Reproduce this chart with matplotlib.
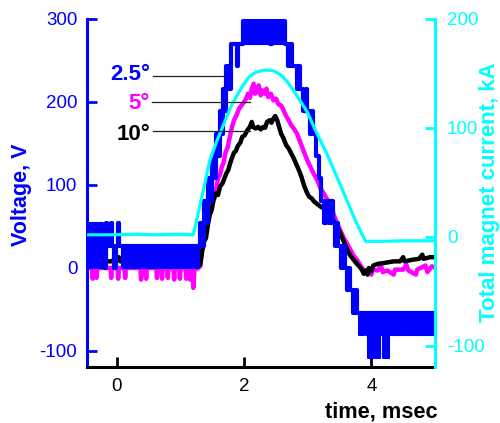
import matplotlib
matplotlib.use('Agg')
import matplotlib.pyplot as plt

plt.rcParams['font.family'] = ['Liberation Sans', 'DejaVu Sans']
plt.rcParams['axes.unicode_minus'] = False

BLUE = '#0000FF'
MAG = '#FF00FF'
CYAN = '#00FFFF'
BLACK = '#000000'

# ---------------- data (time in msec) ----------------
# 2.5 deg voltage (V): quantized step trace (t, level), drawn as steps-post
blue_steps = [(-0.48, 27), (-0.19, 0), (-0.17, 54), (-0.15, 27), (-0.09, 54), (-0.07, 27),
              (-0.05, 0), (-0.02, 27), (0.01, 54), (0.04, 27),
              (1.31, 54), (1.34, 27), (1.37, 81), (1.40, 54), (1.43, 108), (1.46, 81),
              (1.50, 135), (1.53, 108), (1.56, 162), (1.59, 135), (1.62, 189), (1.645, 162),
              (1.67, 216), (1.69, 189), (1.72, 243), (1.75, 216), (1.80, 270), (1.88, 243),
              (1.90, 270), (1.98, 297), (2.41, 270), (2.44, 297), (2.65, 270), (2.69, 243),
              (2.72, 270), (2.75, 243), (2.83, 216), (2.86, 243), (2.88, 216), (2.93, 189),
              (2.97, 216), (2.99, 189), (3.04, 162), (3.07, 189), (3.09, 162), (3.13, 135),
              (3.17, 108), (3.21, 81), (3.26, 54), (3.29, 81), (3.33, 54), (3.36, 81),
              (3.39, 54), (3.43, 27), (3.46, 54), (3.48, 27), (3.53, 0), (3.56, 27),
              (3.59, 0), (3.62, -27), (3.65, 0), (3.67, -27), (3.71, -54), (3.74, -27),
              (3.77, -54), (5.01, -54)]
# dense switching regions of the 2.5 deg trace: (t_start, t_end, low, high)
blue_bands = [(-0.48, -0.22, 0, 54), (0.08, 0.24, 0, 27), (0.26, 0.87, 0, 27),
              (0.89, 1.01, 0, 27), (1.03, 1.08, 0, 27), (1.10, 1.20, 0, 27),
              (1.22, 1.29, 0, 27), (1.98, 2.41, 270, 297), (2.44, 2.65, 270, 297),
              (3.80, 3.89, -81, -54), (3.91, 4.50, -81, -54), (4.52, 5.01, -81, -54),
              (3.95, 4.06, -108, -81), (4.08, 4.13, -108, -81), (4.19, 4.27, -108, -81)]

# 5 deg voltage (V)
mag_t = [-0.48, -0.39, -0.38, -0.37, -0.33, -0.32, -0.31, -0.10, -0.09, -0.08, 0.01, 0.02, 0.03,
         0.12, 0.13, 0.14, 0.37, 0.38, 0.39, 0.45, 0.46, 0.47, 0.62, 0.63, 0.64, 0.70, 0.71, 0.72,
         0.79, 0.80, 0.81, 0.89, 0.90, 0.91, 0.98, 0.99, 1.00, 1.08, 1.09, 1.10, 1.14, 1.15, 1.16,
         1.19, 1.20, 1.22, 1.28, 1.31, 1.35, 1.38, 1.41, 1.44, 1.47, 1.50, 1.53, 1.56, 1.59, 1.62,
         1.65, 1.68, 1.71, 1.74, 1.78, 1.81, 1.84, 1.88, 1.92, 1.96, 2.00, 2.03, 2.06, 2.09, 2.12,
         2.15, 2.17, 2.20, 2.23, 2.26, 2.29, 2.32, 2.35, 2.38, 2.42, 2.46, 2.50, 2.54, 2.58, 2.62,
         2.66, 2.70, 2.74, 2.78, 2.83, 2.88, 2.93, 2.98, 3.04, 3.09, 3.15, 3.20, 3.25, 3.31, 3.36,
         3.40, 3.46, 3.51, 3.56, 3.62, 3.67, 3.72, 3.78, 3.83, 3.87, 3.92, 3.96, 4.00, 4.02, 4.10,
         4.15, 4.18, 4.25, 4.35, 4.37, 4.50, 4.55, 4.58, 4.70, 4.72, 4.85, 4.88, 4.95, 5.01]
mag_v = [0, 0, -13, 0, 0, -12, 0, 0, -12, 0, 0, -13, 0,
         0, -12, 0, 0, -14, 0, 0, -13, 0, 0, -12, 0, 0, -13, 0,
         0, -12, 0, 0, -14, 0, 0, -13, 0, 0, -13, 0, 0, -14, 0,
         0, -24, -2, 0, 2, 30, 42, 55, 60, 75, 82, 90, 95, 108, 112,
         122, 128, 140, 145, 160, 170, 178, 184, 192, 196, 200, 204, 210, 205, 216,
         222, 210, 212, 220, 208, 214, 210, 216, 206, 210, 202, 204, 197, 196, 190,
         183, 178, 172, 168, 162, 152, 142, 132, 122, 114, 106, 96, 90, 82, 72,
         66, 54, 46, 37, 29, 22, 15, 9, 3, -2, -6, -2, -8, -2, -3,
         3, -5, -3, -8, -2, -2, 4, -3, -8, -2, 3, -5, 2, 0]

# 10 deg voltage (V)
blk_t = [-0.48, -0.45, -0.30, -0.27, -0.06, -0.04, 0.03, 0.05, 1.28, 1.31, 1.34, 1.37, 1.40,
         1.43, 1.46, 1.49, 1.52, 1.56, 1.59, 1.62, 1.66, 1.69, 1.72, 1.75, 1.78, 1.81, 1.84,
         1.87, 1.90, 1.94, 1.97, 2.01, 2.05, 2.09, 2.12, 2.14, 2.18, 2.22, 2.26, 2.30, 2.33,
         2.36, 2.40, 2.43, 2.46, 2.49, 2.52, 2.55, 2.58, 2.62, 2.66, 2.70, 2.74, 2.78, 2.82,
         2.86, 2.90, 2.94, 2.98, 3.02, 3.06, 3.10, 3.15, 3.20, 3.25, 3.30, 3.34, 3.38, 3.42,
         3.46, 3.51, 3.56, 3.61, 3.66, 3.71, 3.76, 3.81, 3.85, 3.88, 3.91, 3.94, 3.96, 4.00,
         4.03, 4.10, 4.20, 4.35, 4.45, 4.50, 4.52, 4.65, 4.75, 4.80, 4.82, 4.92, 5.01]
blk_v = [8, 13, 14, 8, 8, 13, 13, 8, 8, 4, 20, 32, 36,
         52, 64, 70, 82, 90, 88, 98, 102, 108, 114, 118, 126, 133, 139,
         141, 147, 151, 158, 160, 166, 170, 176, 170, 168, 170, 167, 170, 169,
         176, 178, 175, 180, 183, 178, 170, 162, 156, 148, 144, 138, 132, 125,
         118, 110, 100, 92, 86, 84, 80, 77, 74, 72, 70, 66, 60, 55,
         50, 42, 33, 24, 16, 11, 6, 2, -2, -7, -3, -8, 0, -4,
         3, 5, 6, 8, 8, 13, 8, 10, 11, 16, 11, 13, 13]

# total magnet current (kA)
cur_t = [-0.48, -0.10, 0.30, 0.60, 1.00, 1.20, 1.31, 1.46, 1.57, 1.67, 1.78, 1.83, 1.98,
         2.08, 2.18, 2.30, 2.40, 2.48, 2.57, 2.67, 2.77, 2.88, 2.99, 3.12, 3.31, 3.51,
         3.72, 3.83, 3.91, 4.20, 4.50, 5.01]
cur_v = [2, 2, 2.5, 2, 2.5, 2, 30, 70, 88, 102, 118, 124, 139,
         147, 151, 153, 153, 152, 149, 143, 135, 125, 115, 98, 75, 48,
         19, 5, -4, -4, -3.5, -3.5]

x_ticks = [0, 2, 4]
v_ticks = [-100, 0, 100, 200, 300]
i_ticks = [-100, 0, 100, 200]

labels = ['2.5°', '5°', '10°']
label_colors = [BLUE, MAG, BLACK]
label_y = [233, 198, 161]        # V, text centre
leader_y = [231, 200, 165]       # V
leader_x = [(0.57, 1.70), (0.55, 2.09), (0.57, 2.09)]

# ---------------- figure ----------------
fig = plt.figure(figsize=(5, 4.23), dpi=100)
ax = fig.add_axes([0.174, 0.1324, 0.696, 0.8227])
ax2 = ax.twinx()

ax.set_xlim(-0.47, 5.0)
ax.set_ylim(-119.3, 300)
ax2.set_ylim(-119.3, 200)

ax.plot(mag_t, mag_v, color=MAG, lw=3.2, zorder=2)
ax.plot(blk_t, blk_v, color=BLACK, lw=3.2, zorder=2.1)
bt = [p[0] for p in blue_steps]
bv = [p[1] for p in blue_steps]
ax.plot(bt, bv, drawstyle='steps-post', color=BLUE, lw=3.0, zorder=2.2)
for t0, t1, lo, hi in blue_bands:
    ax.fill_between([t0, t1], [lo, lo], [hi, hi], color=BLUE, lw=1.5, zorder=2.2)

ax2.plot(cur_t, cur_v, color=CYAN, lw=2.3, zorder=3)

for lab, col, ly, lly, (x0, x1) in zip(labels, label_colors, label_y, leader_y, leader_x):
    ax2.text(0.52, ly, lab, transform=ax.transData, ha='right', va='center',
             color=col, fontsize=16, fontweight='bold', zorder=5)
    ax2.plot([x0, x1], [lly, lly], transform=ax.transData, color='#222222', lw=0.9, zorder=5)

# axes styling
ax.spines['top'].set_visible(False)
ax.spines['right'].set_visible(False)
ax.spines['left'].set_color(BLUE)
ax.spines['left'].set_linewidth(2.2)
ax.spines['bottom'].set_color(BLACK)
ax.spines['bottom'].set_linewidth(2.2)
for s in ['top', 'left', 'bottom']:
    ax2.spines[s].set_visible(False)
ax2.spines['right'].set_color(CYAN)
ax2.spines['right'].set_linewidth(2.2)

ax.set_xticks(x_ticks)
ax.set_yticks(v_ticks)
ax2.set_yticks(i_ticks)
ax.tick_params(axis='y', direction='in', length=7, width=2, colors=BLUE, labelsize=13.5, pad=7)
ax.tick_params(axis='x', direction='in', length=7, width=2, colors=BLACK, labelsize=13.5, pad=8)
ax2.tick_params(axis='y', direction='in', length=7, width=2, colors=CYAN, labelsize=13.5, pad=8.5)

fig.text(0.043, 0.539, 'Voltage, V', rotation=90, ha='center', va='center',
         color=BLUE, fontsize=15.5, fontweight='bold')
fig.text(0.980, 0.546, 'Total magnet current, kA', rotation=90, ha='center', va='center',
         color=CYAN, fontsize=16, fontweight='bold')
fig.text(0.876, 0.027, 'time, msec', ha='right', va='center',
         color=BLACK, fontsize=15.7, fontweight='bold')

fig.savefig('out.png', dpi=100)
